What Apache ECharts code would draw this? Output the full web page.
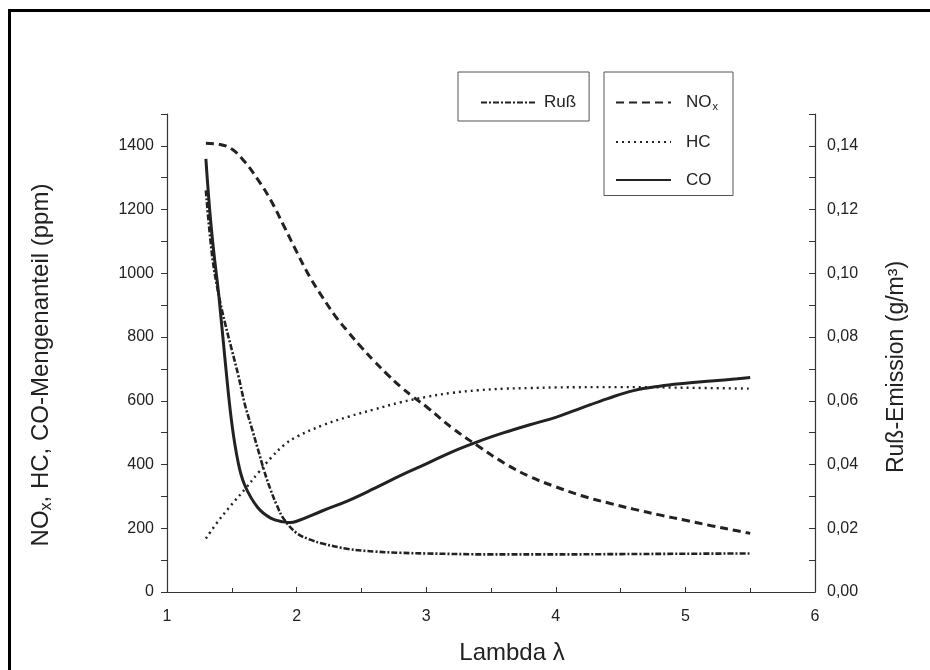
<!DOCTYPE html>
<html>
<head>
<meta charset="utf-8">
<script src="https://cdn.jsdelivr.net/npm/echarts@6/dist/echarts.min.js"></script>
<style>html,body{margin:0;padding:0;background:#fff;}#c{width:930px;height:670px;}</style>
</head>
<body>
<div id="c"></div>
<script>
// ---- data ----
var noxLambda = [1.3,1.4,1.5,1.6,1.7,1.8,1.9,2.0,2.1,2.2,2.3,2.4,2.5,2.6,2.7,2.8,2.9,3.0,3.2,3.4,3.6,3.8,4.0,4.2,4.4,4.6,4.8,5.0,5.2,5.4,5.5];
var noxValues = [1408,1405,1390,1350,1295,1230,1150,1068,990,925,865,815,768,724,683,645,612,582,515,458,405,362,330,302,280,260,242,225,208,192,184];

var hcLambda = [1.3,1.4,1.5,1.6,1.7,1.8,1.9,2.0,2.2,2.4,2.6,2.8,3.0,3.2,3.4,3.6,3.8,4.0,4.5,5.0,5.5];
var hcValues = [168,225,275,322,372,420,460,487,523,550,573,595,612,625,633,638,640,642,643,641,638];

var coLambda = [1.3,1.33,1.36,1.4,1.45,1.5,1.55,1.6,1.7,1.8,1.9,1.95,2.0,2.2,2.4,2.6,2.8,3.0,3.2,3.4,3.6,3.8,4.0,4.2,4.4,4.6,4.8,5.0,5.2,5.4,5.5];
var coValues = [1359,1196,1070,930,720,530,405,335,265,232,220,218,222,255,287,325,365,402,440,472,500,525,548,578,607,632,646,655,662,669,673];

var russLambda = [1.3,1.35,1.4,1.45,1.5,1.55,1.6,1.65,1.7,1.75,1.8,1.85,1.9,2.0,2.1,2.2,2.4,2.6,2.8,3.0,3.5,4.0,4.5,5.0,5.5];
var russValues = [0.126,0.105,0.093,0.084,0.076,0.068,0.059,0.052,0.045,0.038,0.032,0.027,0.023,0.0185,0.0165,0.0152,0.0135,0.0127,0.0123,0.0121,0.0118,0.0118,0.0119,0.012,0.0121];

var xTicks = [1,2,3,4,5,6];
var leftTickLabels = [0,200,400,600,800,1000,1200,1400];
var rightTickLabels = ['0,00','0,02','0,04','0,06','0,08','0,10','0,12','0,14'];

function pairs(xs, ys){ return xs.map(function(x,i){ return [x, ys[i]]; }); }

var FONT = 'Liberation Sans, Arial, Helvetica, sans-serif';
var INK = '#222';

var chart = echarts.init(document.getElementById('c'), null, {renderer:'canvas'});
var legendItemStyle = { color: 'rgba(0,0,0,0)', borderWidth: 0, opacity: 0 };
var option = {
  backgroundColor: '#fff',
  animation: false,
  color: [INK, INK, INK, INK],
  textStyle: { fontFamily: FONT, color: INK },
  graphic: [{
    type: 'rect',
    shape: { x: 9.5, y: 10.5, width: 1000, height: 1000 },
    style: { fill: 'none', stroke: '#000', lineWidth: 3 },
    silent: true
  }],
  grid: { left: 167, right: 115, top: 114, bottom: 78 },
  legend: [{
    data: ['Ruß'],
    left: 458, top: 72,
    orient: 'vertical',
    padding: [22, 13, 10, 22],
    borderColor: '#555', borderWidth: 1,
    itemWidth: 55, itemHeight: 14, itemGap: 20,
    itemStyle: legendItemStyle,
    textStyle: { fontFamily: FONT, fontSize: 17, color: INK, padding: [0, 0, 0, 3] }
  }, {
    data: ['NOx', 'HC', 'CO'],
    left: 604, top: 72,
    orient: 'vertical',
    padding: [22, 15, 7, 11],
    borderColor: '#555', borderWidth: 1,
    itemWidth: 55, itemHeight: 14, itemGap: 21,
    itemStyle: legendItemStyle,
    formatter: function(n){ return n === 'NOx' ? 'NO{sub|x}' : n; },
    textStyle: { fontFamily: FONT, fontSize: 17, color: INK, padding: [0, 0, 0, 10],
      rich: { sub: { fontFamily: FONT, fontSize: 11, color: INK, verticalAlign: 'bottom', padding: [9,0,0,1] } } }
  }],
  xAxis: {
    type: 'value', min: 1, max: 6, interval: 1,
    name: 'Lambda λ', nameLocation: 'middle', nameGap: 49,
    nameTextStyle: { fontFamily: FONT, fontSize: 24, color: INK, padding: [0, 0, 0, 42] },
    axisLine: { lineStyle: { color: '#333', width: 1.2 } },
    axisTick: { show: true, inside: true, length: 5, lineStyle: { color: '#333' } },
    minorTick: { show: true, splitNumber: 2, length: 4, lineStyle: { color: '#333' } },
    axisLabel: { fontFamily: FONT, fontSize: 16, color: INK, margin: 17,
      formatter: function(v){ return xTicks.indexOf(v) >= 0 ? String(v) : ''; } },
    splitLine: { show: false }
  },
  yAxis: [{
    type: 'value', min: 0, max: 1500, interval: 100, position: 'left',
    name: 'NO{sub|x}, HC, CO-Mengenanteil (ppm)', nameLocation: 'middle', nameGap: 112, nameRotate: 90,
    nameTextStyle: { fontFamily: FONT, fontSize: 24, color: INK, padding: [0, 24, 0, 0],
      rich: { sub: { fontFamily: FONT, fontSize: 16, color: INK, verticalAlign: 'bottom', padding: [12,0,0,0] } } },
    axisLine: { show: true, lineStyle: { color: '#333', width: 1.2 } },
    axisTick: { show: true, inside: false, length: 6, lineStyle: { color: '#333' } },
    axisLabel: { fontFamily: FONT, fontSize: 16, color: INK, margin: 13,
      formatter: function(v){ return leftTickLabels.indexOf(v) >= 0 ? String(v) : ''; } },
    splitLine: { show: false }
  }, {
    type: 'value', min: 0, max: 0.15, interval: 0.01, position: 'right',
    name: 'Ruß-Emission (g/m³)', nameLocation: 'middle', nameGap: 70, nameRotate: 90,
    nameTextStyle: { fontFamily: FONT, fontSize: 23, color: INK, padding: [0, 28, 0, 0] },
    axisLine: { show: true, lineStyle: { color: '#333', width: 1.2 } },
    axisTick: { show: true, inside: true, length: 6, lineStyle: { color: '#333' } },
    axisLabel: { fontFamily: FONT, fontSize: 16, color: INK, margin: 12,
      formatter: function(v){ var k = Math.round(v*100); return (k % 2 === 0 && k <= 14) ? rightTickLabels[k/2] : ''; } },
    splitLine: { show: false }
  }],
  series: [{
    name: 'Ruß', type: 'line', yAxisIndex: 1, smooth: 0.4, symbol: 'none', color: INK,
    data: pairs(russLambda, russValues),
    lineStyle: { color: INK, width: 2.6, type: [6, 2, 2, 2] }
  }, {
    name: 'NOx', type: 'line', yAxisIndex: 0, smooth: 0.4, symbol: 'none', color: INK,
    data: pairs(noxLambda, noxValues),
    lineStyle: { color: INK, width: 3, type: [8, 5] }
  }, {
    name: 'HC', type: 'line', yAxisIndex: 0, smooth: 0.4, symbol: 'none', color: INK,
    data: pairs(hcLambda, hcValues),
    lineStyle: { color: INK, width: 2.4, type: [2, 4] }
  }, {
    name: 'CO', type: 'line', yAxisIndex: 0, smooth: 0.4, symbol: 'none', color: INK,
    data: pairs(coLambda, coValues),
    lineStyle: { color: INK, width: 3, type: 'solid' }
  }]
};
chart.setOption(option);
</script>
</body>
</html>
